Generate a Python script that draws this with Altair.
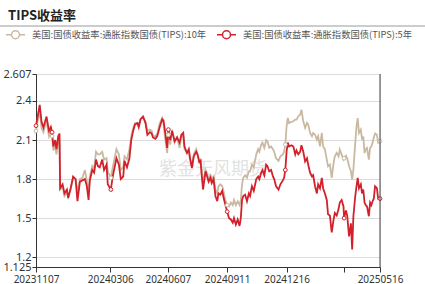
import altair as alt
import pandas as pd

# ---- data ----
start_date = "2023-11-07"
days = [0, 6, 9, 12, 14, 17, 21, 24, 26, 28, 31, 33, 36, 38, 39, 43, 46, 50, 52, 56,
        60, 64, 67, 71, 75, 79, 82, 85, 87, 91, 94, 97, 100, 103, 107, 110, 114, 116, 121, 124,
        130, 134, 137, 141, 143, 147, 151, 154, 157, 160, 164, 166, 169, 173, 177, 180, 184, 187, 189, 193,
        196, 200, 204, 206, 209, 212, 214, 217, 220, 224, 228, 232, 235, 238, 240, 244, 247, 249, 252, 255,
        259, 261, 264, 266, 268, 270, 274, 276, 279, 282, 284, 287, 290, 293, 295, 298, 301, 303, 306, 309,
        312, 315, 318, 320, 323, 326, 329, 331, 333, 335, 338, 341, 344, 346, 349, 352, 356, 359, 361, 364,
        366, 369, 372, 374, 377, 380, 383, 385, 388, 392, 395, 399, 401, 403, 405, 407, 409, 413, 416, 419,
        421, 424, 427, 429, 432, 435, 438, 440, 443, 446, 448, 451, 454, 456, 459, 462, 464, 467, 470, 472,
        475, 478, 481, 483, 486, 489, 491, 494, 497, 498, 501, 503, 506, 509, 511, 513, 516, 518, 520, 522,
        525, 527, 529, 531, 533, 535, 538, 540, 542, 544, 546, 548, 551, 553, 556]

tips_5y = [2.21, 2.37, 2.24, 2.195, 2.23, 2.28, 2.17, 2.20, 2.16, 2.05, 2.10, 2.03, 2.13, 2.15, 1.73, 1.76, 1.69, 1.72, 1.655, 1.73,
           1.82, 1.80, 1.63, 1.78, 1.79, 1.80, 1.75, 1.64, 1.79, 1.87, 1.85, 1.95, 1.90, 1.89, 1.95, 1.87, 1.91, 1.76, 1.72, 1.82,
           1.96, 1.91, 1.80, 1.82, 1.94, 1.89, 1.96, 2.10, 2.17, 2.22, 2.23, 2.20, 2.26, 2.28, 2.23, 2.14, 2.16, 2.15, 2.12, 2.11,
           2.13, 2.20, 2.26, 2.25, 2.155, 2.04, 2.18, 2.10, 2.17, 2.09, 2.12, 2.08, 2.14, 2.155, 2.05, 2.00, 2.03, 1.96, 1.885, 1.975,
           2.01, 1.99, 1.93, 1.94, 1.82, 1.72, 1.86, 1.83, 1.78, 1.81, 1.77, 1.80, 1.67, 1.63, 1.69, 1.68, 1.71, 1.66, 1.605, 1.55,
           1.50, 1.49, 1.465, 1.50, 1.45, 1.49, 1.44, 1.50, 1.64, 1.67, 1.68, 1.63, 1.69, 1.67, 1.745, 1.71, 1.80, 1.82, 1.80, 1.85,
           1.87, 1.83, 1.91, 1.90, 1.86, 1.87, 1.82, 1.80, 1.745, 1.72, 1.76, 1.79, 1.81, 1.87, 2.01, 2.08, 2.05, 2.06, 2.05, 1.99,
           2.02, 1.99, 2.01, 2.06, 2.01, 1.935, 1.96, 1.91, 1.85, 1.82, 1.83, 1.745, 1.69, 1.76, 1.73, 1.81, 1.73, 1.69, 1.64, 1.53,
           1.52, 1.39, 1.49, 1.54, 1.52, 1.57, 1.62, 1.64, 1.59, 1.50, 1.56, 1.52, 1.36, 1.46, 1.26, 1.515, 1.67, 1.745, 1.81, 1.73,
           1.76, 1.69, 1.72, 1.62, 1.60, 1.59, 1.515, 1.62, 1.60, 1.63, 1.65, 1.745, 1.73, 1.65, 1.65]

tips_10y = [2.17, 2.33, 2.19, 2.16, 2.20, 2.24, 2.13, 2.17, 2.13, 2.02, 2.06, 1.99, 2.08, 2.10, 1.72, 1.74, 1.67, 1.70, 1.66, 1.72,
            1.81, 1.80, 1.70, 1.80, 1.81, 1.87, 1.79, 1.70, 1.82, 1.90, 1.88, 2.01, 1.99, 1.99, 2.01, 1.95, 1.96, 1.86, 1.81, 1.89,
            2.03, 1.99, 1.87, 1.89, 1.975, 1.95, 2.03, 2.13, 2.19, 2.23, 2.23, 2.205, 2.26, 2.28, 2.24, 2.17, 2.18, 2.17, 2.13, 2.13,
            2.15, 2.23, 2.27, 2.23, 2.10, 2.00, 2.14, 2.065, 2.18, 2.08, 2.12, 2.04, 2.13, 2.13, 2.03, 2.00, 2.01, 1.95, 1.90, 1.99,
            2.03, 1.99, 1.94, 1.95, 1.85, 1.77, 1.87, 1.85, 1.80, 1.83, 1.80, 1.82, 1.72, 1.69, 1.745, 1.76, 1.745, 1.71, 1.64, 1.60,
            1.59, 1.62, 1.60, 1.64, 1.60, 1.63, 1.60, 1.64, 1.76, 1.81, 1.83, 1.81, 1.86, 1.86, 1.91, 1.89, 1.99, 2.03, 2.01, 2.065,
            2.08, 2.04, 2.10, 2.09, 2.04, 2.05, 2.03, 2.01, 1.96, 1.94, 1.975, 1.99, 2.01, 2.065, 2.205, 2.27, 2.23, 2.24, 2.244, 2.257,
            2.257, 2.282, 2.295, 2.333, 2.244, 2.193, 2.231, 2.218, 2.154, 2.129, 2.154, 2.141, 2.103, 2.129, 2.052, 2.154, 2.052, 2.026, 1.95, 1.898,
            1.911, 1.809, 1.924, 1.975, 2.001, 1.975, 2.026, 1.988, 1.95, 1.96, 1.98, 1.96, 1.90, 1.86, 1.796, 1.873, 2.078, 2.205, 2.269, 2.154,
            2.18, 2.103, 2.129, 2.001, 2.03, 2.04, 1.95, 2.039, 2.05, 2.08, 2.12, 2.15, 2.14, 2.08, 2.09]

marker_days = [0, 26, 121, 214, 309, 403, 498, 556]

tick_dates = ["2023-11-07", "2024-03-06", "2024-06-07", "2024-09-11", "2024-12-16", "2025-03-19", "2025-05-16"]
y_ticks = [1.125, 1.2, 1.5, 1.8, 2.1, 2.4, 2.607]
y_min, y_max = 1.125, 2.607

title_text = "TIPS收益率"
label_10 = "美国:国债收益率:通胀指数国债(TIPS):10年"
label_5 = "美国:国债收益率:通胀指数国债(TIPS):5年"
watermark = "紫金天风期货"

color_10 = "#c9b9a1"
color_5 = "#d3202a"

# ---- build tables ----
base_ts = pd.Timestamp(start_date)
date_str = [(base_ts + pd.Timedelta(days=d)).strftime("%Y-%m-%dT00:00:00") for d in days]
df10 = pd.DataFrame({"date": date_str, "value": tips_10y, "series": label_10, "day": days})
df5 = pd.DataFrame({"date": date_str, "value": tips_5y, "series": label_5, "day": days})
m10 = df10[df10["day"].isin(marker_days)]
m5 = df5[df5["day"].isin(marker_days)]

W, H = 344, 193
CJK = "Noto Sans CJK SC"

tick_vals = [alt.DateTime(year=int(t[:4]), month=int(t[5:7]), date=int(t[8:10])) for t in tick_dates]
x_scale = alt.Scale(domain=[alt.DateTime(year=2023, month=11, date=7),
                            alt.DateTime(year=2025, month=5, date=16)], nice=False)
y_scale = alt.Scale(domain=[y_min, y_max], nice=False, zero=False)
color_scale = alt.Scale(domain=[label_10, label_5], range=[color_10, color_5])

x_axis = alt.Axis(values=tick_vals, title=None, grid=False, labelFlush=False,
                  labelExpr="timeFormat(datum.value, '%Y%m%d') == '20250319' ? '' : timeFormat(datum.value, '%Y%m%d')",
                  labelFont="Noto Sans", labelFontSize=10, labelColor="#333", labelPadding=2,
                  tickSize=5, tickColor="#333", domainColor="#333", labelOverlap=False)
y_axis = alt.Axis(values=y_ticks, title=None, labelExpr="format(datum.value, '.4~g')",
                  grid=True, gridColor="#dcdcdc",
                  labelFont="Noto Sans", labelFontSize=11, labelColor="#333", labelPadding=1,
                  tickSize=4, tickColor="#333", domainColor="#333", labelOverlap=False)

legend_path = "M-1,0L-0.42,0M0.42,0L1,0M-0.42,0A0.42,0.42,0,1,1,0.42,0A0.42,0.42,0,1,1,-0.42,0Z"
legend = alt.Legend(title=None, orient="none", legendX=-31, legendY=-50, direction="horizontal",
                    symbolType=legend_path, symbolSize=361, symbolFillColor="white",
                    symbolStrokeWidth=1.5, labelFont=CJK, labelFontSize=9.3, labelColor="#555",
                    labelOffset=6, columnPadding=7, labelLimit=400, padding=0)

X = alt.X("date:T", scale=x_scale, axis=x_axis)
Y = alt.Y("value:Q", scale=y_scale, axis=y_axis)
C = alt.Color("series:N", scale=color_scale, legend=legend)
S = alt.Stroke("series:N", scale=color_scale, legend=None)

wm = alt.Chart(pd.DataFrame({"t": [watermark]})).mark_text(
    font=CJK, fontSize=18, color="#e2e2e2", align="center", baseline="middle"
).encode(text="t:N", x=alt.value(177), y=alt.value(96))

line10 = alt.Chart(df10).mark_line(strokeWidth=1.8).encode(x=X, y=Y, color=C)
line5 = alt.Chart(df5).mark_line(strokeWidth=1.8).encode(x=X, y=Y, color=C)
pts10 = alt.Chart(m10).mark_point(shape="circle", filled=True, fill="white", size=14, strokeWidth=1, opacity=1).encode(
    x=X, y=Y, stroke=S)
pts5 = alt.Chart(m5).mark_point(shape="circle", filled=True, fill="white", size=14, strokeWidth=1, opacity=1).encode(
    x=X, y=Y, stroke=S)

one = pd.DataFrame({"a": [0]})
right_edge = alt.Chart(one).mark_rule(color="#444", strokeWidth=1).encode(
    x=alt.value(W), y=alt.value(0), y2=alt.value(H))
title_rule = alt.Chart(one).mark_rule(color="#9a9a9a", strokeWidth=1).encode(
    x=alt.value(-36), x2=alt.value(389), y=alt.value(-48))
title_mark = alt.Chart(pd.DataFrame({"t": [title_text]})).mark_text(
    font=CJK, fontSize=13, fontWeight="bold", color="#222", align="left", baseline="alphabetic"
).encode(text="t:N", x=alt.value(-28), y=alt.value(-54))

chart = alt.layer(wm, line10, line5, pts10, pts5, right_edge, title_rule, title_mark).properties(
    width=W, height=H,
    autosize=alt.AutoSizeParams(type="none"),
    padding={"left": 36, "top": 74, "right": 45, "bottom": 17},
).configure_view(stroke=None).configure(background="white")

chart.save("out.html", embed_options={"renderer": "svg", "actions": False})
